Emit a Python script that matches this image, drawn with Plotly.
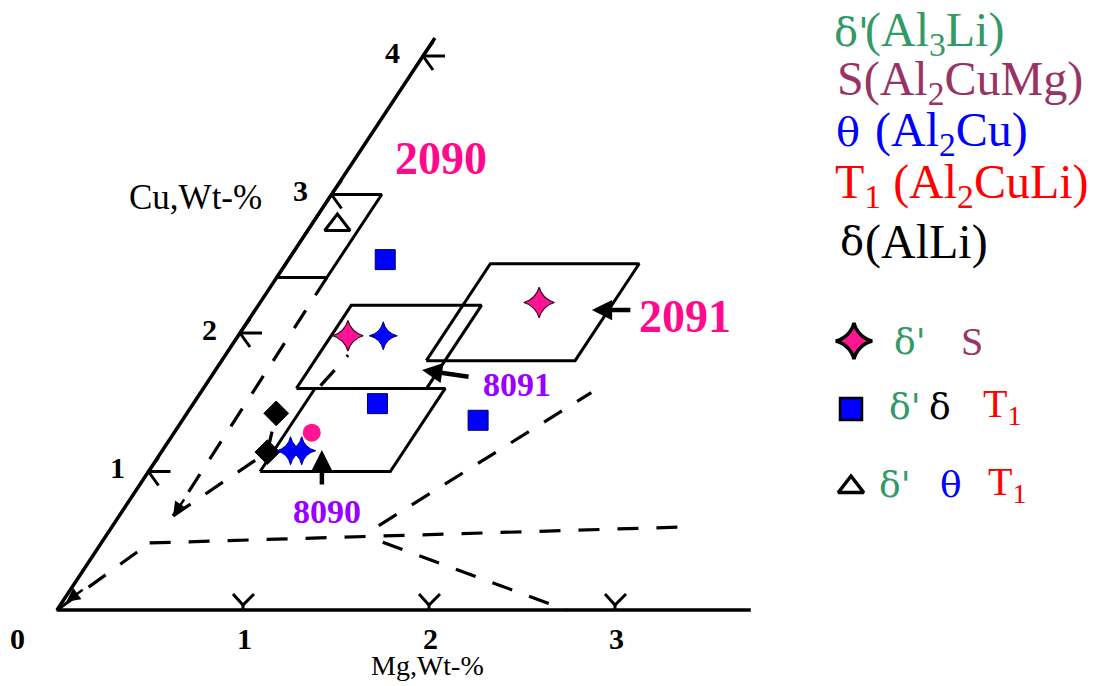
import plotly.graph_objects as go

# ---------------- data (wt-% Mg, wt-% Cu) ----------------
# alloy composition windows
alloy_names = ["2090", "8090", "8091", "2091"]
alloy_mg_lo = [0.00, 0.60, 0.50, 1.10]
alloy_mg_hi = [0.27, 1.30, 1.20, 1.90]
alloy_cu_lo = [2.40, 1.00, 1.60, 1.80]
alloy_cu_hi = [3.00, 1.60, 2.20, 2.50]

# phase observations
ds_mg = [1.50, 0.59]            # delta' + S
ds_cu = [2.22, 1.98]
ddt_mg = [0.52, 0.99, 1.59]     # delta' + delta + T1
ddt_cu = [2.53, 1.49, 1.37]
dtt_mg = [0.14]                 # delta' + theta + T1
dtt_cu = [2.78]
blue_pt_mg = [0.78, 0.69, 0.75]
blue_pt_cu = [1.98, 1.15, 1.15]
pink_pt_mg = [0.74]
pink_pt_cu = [1.28]
black_pt_mg = [0.48, 0.57]
black_pt_cu = [1.42, 1.14]

# phase-field boundaries (dashed)
bound_mg = [[0.00, 0.26], [0.26, 3.09], [1.51, 2.74], [1.43, 2.10],
            [0.27, 0.29], [0.29, 0.57], [0.57, 0.48], [0.62, 0.66]]
bound_cu = [[0.00, 0.484], [0.484, 0.60], [0.49, 0.00], [0.61, 1.57],
            [2.40, 0.68], [0.68, 1.14], [1.14, 1.42], [1.62, 1.84]]

# axes
mg_ticks = [0, 1, 2, 3]
cu_ticks = [1, 2, 3, 4]
mg_axis_end = 3.73
cu_axis_end = 4.13

# ---------------- oblique projection ----------------
W, H = 1093, 686
SX, SY = 186.0, 138.5          # px per wt-% along Mg and Cu
OX, OY = 57.0, 610.0           # page position of the origin
K = 91.5 / SX                  # shear of the Cu axis


def proj(mg, cu):
    return [m + K * c for m, c in zip(mg, cu)], list(cu)


def px(dx):
    return dx / SX


def py(dy):
    return dy / SY


SERIF = "Liberation Serif"
GREEK = "DejaVu Serif"
GREEN = "#339966"
MAROON = "#993366"
BLUE = "#0000ff"
RED = "#ff0000"
PINK = "#ff1493"
PINK_TXT = "#ff0a8c"
PURPLE = "#9900ff"

fig = go.Figure()


def lines(xs, ys, width=3.5, dash=None, color="black"):
    fig.add_trace(go.Scatter(x=xs, y=ys, mode="lines",
                             line=dict(color=color, width=width, dash=dash),
                             hoverinfo="skip", showlegend=False))


# axes
ax_x, ax_y = proj([mg_axis_end, 0, 0], [0, 0, cu_axis_end])
lines(ax_x, ax_y, width=3.5)

# tick glyphs on both axes
tx, ty = [], []
for m in mg_ticks[1:]:
    x0, y0 = proj([m], [0])
    x0, y0 = x0[0], y0[0]
    tx += [x0, x0, None, x0 - px(10), x0, x0 + px(11), None]
    ty += [y0, y0 + py(5), None, y0 + py(16), y0 + py(5), y0 + py(16), None]
for c in cu_ticks:
    x0, y0 = proj([0], [c])
    x0, y0 = x0[0], y0[0]
    tx += [x0, x0 + px(22), None, x0 + px(10), x0, x0 + px(10), None]
    ty += [y0, y0, None, y0 + py(14), y0, y0 - py(14), None]
lines(tx, ty, width=3)

# alloy windows
for lo_m, hi_m, lo_c, hi_c in zip(alloy_mg_lo, alloy_mg_hi, alloy_cu_lo, alloy_cu_hi):
    bx, by = proj([lo_m, hi_m, hi_m, lo_m, lo_m], [lo_c, lo_c, hi_c, hi_c, lo_c])
    lines(bx, by, width=3)

# phase boundaries
for bm, bc in zip(bound_mg, bound_cu):
    bx, by = proj(bm, bc)
    lines(bx, by, width=3.2, dash="21px,18px")


def markers(mg, cu, symbol, size, color, lc="black", lw=1.0):
    x, y = proj(mg, cu)
    fig.add_trace(go.Scatter(x=x, y=y, mode="markers",
                             marker=dict(symbol=symbol, size=size, color=color,
                                         line=dict(color=lc, width=lw)),
                             hoverinfo="skip", showlegend=False))


markers(black_pt_mg, black_pt_cu, "diamond", 19, "black")
markers(blue_pt_mg, blue_pt_cu, "star-diamond", 20, BLUE, lc="#000080", lw=1)
markers(blue_pt_mg, blue_pt_cu, "circle", 12, BLUE, lc=BLUE, lw=0)
markers(pink_pt_mg, pink_pt_cu, "circle", 18, PINK, lc=PINK, lw=0)
markers(ds_mg, ds_cu, "star-diamond", 22, PINK, lc="#400020", lw=1.2)
markers(ds_mg, ds_cu, "circle", 14, PINK, lc=PINK, lw=0)
markers(ddt_mg, ddt_cu, "square", 20, BLUE, lc="#000060", lw=1)
markers(dtt_mg, dtt_cu, "triangle-up-open", 22, "black", lc="black", lw=3)

ann = []


def page_text(x, y, text, size, color="black", bold=False, xanchor="center", family=SERIF):
    ann.append(dict(x=x / W, y=1 - y / H, xref="paper", yref="paper", text=text,
                    showarrow=False, xanchor=xanchor, yanchor="middle",
                    font=dict(family=family, size=size, color=color,
                              weight="bold" if bold else "normal")))


def data_text(mg, cu, text, size, color="black", bold=False, xs=0, ys=0):
    x, y = proj([mg], [cu])
    ann.append(dict(x=x[0], y=y[0], xref="x", yref="y", text=text, showarrow=False,
                    xanchor="center", yanchor="middle", xshift=xs, yshift=ys,
                    font=dict(family=SERIF, size=size, color=color,
                              weight="bold" if bold else "normal")))


# tick labels
for m in mg_ticks:
    data_text(m, 0, str(m), 30, bold=True, xs=(-40 if m == 0 else 1), ys=-28)
for c in cu_ticks:
    data_text(0, c, str(c), 30, bold=True, xs=-31, ys=4)

# axis titles
page_text(427, 665, "Mg,Wt-%", 28)
page_text(195, 198, "Cu,Wt-%", 35)

# alloy labels
alloy_label_px = {"2090": (441, 158, 46, PINK_TXT), "2091": (685, 316, 46, PINK_TXT),
                  "8091": (517, 385, 34, PURPLE), "8090": (327, 511, 34, PURPLE)}
for name in alloy_names:
    lx, ly, fs, col = alloy_label_px[name]
    page_text(lx, ly, name, fs, color=col, bold=True)


def arrow(mg, cu, ax, ay, width=4.5, size=0.9):
    x, y = proj([mg], [cu])
    ann.append(dict(x=x[0], y=y[0], xref="x", yref="y", text="", showarrow=True,
                    ax=ax, ay=ay, arrowhead=2, arrowsize=size, arrowwidth=width,
                    arrowcolor="black", standoff=0))


arrow(1.81, 2.166, 40, 0)       # 2091 pointer
arrow(1.11, 1.733, 48, 7)       # 8091 pointer
arrow(0.856, 1.155, 0, 36)      # 8090 pointer
arrow(0.29, 0.68, 12, -18, width=2.5, size=1.1)   # end of left boundary
arrow(0.02, 0.06, 18, -13, width=2.5, size=1.1)   # towards origin

# phase key (upper right): Greek symbol part + formula part
key_rows = [
    (33, 832, "δ'", 863, "(Al<sub>3</sub>Li)", GREEN),
    (82, None, "", 835, "S(Al<sub>2</sub>CuMg)", MAROON),
    (133, 834, "θ", 873, "(Al<sub>2</sub>Cu)", BLUE),
    (185, None, "", 833, "T<sub>1</sub> (Al<sub>2</sub>CuLi)", RED),
    (242, 838, "δ", 863, "(AlLi)", "black"),
]
for yy, gx, gtxt, fx, ftxt, col in key_rows:
    if gx is not None:
        page_text(gx, yy - 1, gtxt, 40, color=col, xanchor="left", family=GREEK)
    page_text(fx, yy, ftxt, 48, color=col, xanchor="left")

# phase-combination key (symbols)
sym_rows = [
    (341, [(910, "δ'", GREEN, GREEK), (972, "S", MAROON, SERIF)]),
    (406, [(905, "δ'", GREEN, GREEK), (940, "δ", "black", GREEK),
           (1002, "T<sub>1</sub>", RED, SERIF)]),
    (484, [(895, "δ'", GREEN, GREEK), (951, "θ", BLUE, GREEK),
           (1007, "T<sub>1</sub>", RED, SERIF)]),
]
for yy, items in sym_rows:
    for xx, t, col, fam in items:
        page_text(xx, yy, t, 36 if fam == GREEK else 40, color=col, family=fam)

key_sym_x = [854, 854, 851, 851]
key_sym_y = [341, 341, 409, 487]
key_sym = ["star-diamond", "circle", "square", "triangle-up-open"]
key_col = [PINK, PINK, BLUE, "black"]
key_size = [26, 13, 22, 22]
key_lw = [3.5, 0, 2.5, 3.5]
for sx, sy, s, c, sz, lw in zip(key_sym_x, key_sym_y, key_sym, key_col, key_size, key_lw):
    fig.add_trace(go.Scatter(x=[sx], y=[sy], xaxis="x2", yaxis="y2", mode="markers",
                             marker=dict(symbol=s, size=sz, color=c,
                                         line=dict(color="black", width=lw)),
                             hoverinfo="skip", showlegend=False))

fig.update_layout(
    width=W, height=H,
    margin=dict(l=0, r=0, t=0, b=0),
    paper_bgcolor="white", plot_bgcolor="white",
    showlegend=False,
    xaxis=dict(range=[-OX / SX, (W - OX) / SX], visible=False, fixedrange=True),
    yaxis=dict(range=[-(H - OY) / SY, OY / SY], visible=False, fixedrange=True),
    xaxis2=dict(range=[0, W], visible=False, overlaying="x", fixedrange=True),
    yaxis2=dict(range=[H, 0], visible=False, overlaying="y", fixedrange=True),
    annotations=ann,
)

fig.write_html("out.html")
